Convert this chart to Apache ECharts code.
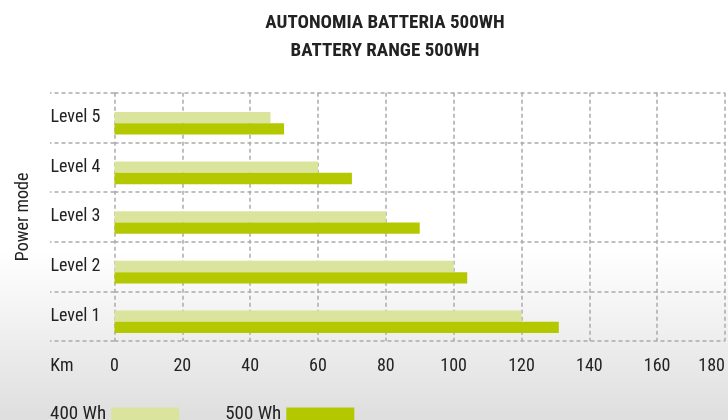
<!DOCTYPE html>
<html>
<head>
<meta charset="utf-8">
<script src="https://cdn.jsdelivr.net/npm/echarts@6/dist/echarts.min.js"></script>
<style>
html,body{margin:0;padding:0;}
#chart{width:728px;height:420px;}
</style>
</head>
<body>
<div id="chart"></div>
<script>
const titleLines = ['AUTONOMIA BATTERIA 500WH', 'BATTERY RANGE 500WH'];
const categories = ['Level 1', 'Level 2', 'Level 3', 'Level 4', 'Level 5'];
const seriesNames = ['400 Wh', '500 Wh'];
const values400 = [120, 100, 80, 60, 46];
const values500 = [131, 104, 90, 70, 50];
const xTicks = [0, 20, 40, 60, 80, 100, 120, 140, 160, 180];
const xAxisName = 'Km';
const yAxisName = 'Power mode';

const FONT = "'Liberation Sans Narrow','Roboto Condensed','DejaVu Sans Condensed','Noto Sans',sans-serif";
const chart = echarts.init(document.getElementById('chart'));
const gridLine = {type: [4, 3], color: '#aaaaaa', width: 1.5};

chart.setOption({
  animation: false,
  backgroundColor: {
    type: 'linear', x: 0, y: 0, x2: 0, y2: 1,
    colorStops: [
      {offset: 0, color: '#ffffff'},
      {offset: 0.6, color: '#ffffff'},
      {offset: 1, color: '#dedede'}
    ]
  },
  textStyle: {fontFamily: FONT},
  title: {
    text: titleLines.join('\n'),
    left: 385,
    top: 9,
    padding: 0,
    textAlign: 'center',
    textStyle: {fontFamily: FONT, fontSize: 19, fontWeight: 'bold', color: '#222', lineHeight: 28}
  },
  legend: {
    data: seriesNames,
    left: 50,
    top: 405,
    align: 'right',
    icon: 'rect',
    itemWidth: 68,
    itemHeight: 14,
    itemGap: 46,
    padding: 0,
    textStyle: {fontFamily: FONT, fontSize: 19, color: '#222'}
  },
  grid: {left: 114.5, right: 2.5, top: 92.7, bottom: 79, containLabel: false},
  xAxis: {
    type: 'value',
    min: xTicks[0],
    max: xTicks[xTicks.length - 1],
    interval: xTicks[1] - xTicks[0],
    name: xAxisName,
    nameLocation: 'start',
    nameGap: 41,
    nameTextStyle: {fontFamily: FONT, fontSize: 18, color: '#222', verticalAlign: 'top', padding: [16, 0, 0, 0]},
    axisLine: {show: false},
    axisTick: {show: false},
    axisLabel: {margin: 16, fontFamily: FONT, fontSize: 18, color: '#222', alignMaxLabel: 'right'},
    splitLine: {show: true, lineStyle: gridLine}
  },
  yAxis: {
    type: 'category',
    data: categories,
    name: yAxisName,
    nameLocation: 'middle',
    nameRotate: 90,
    nameGap: 82,
    nameTextStyle: {fontFamily: FONT, fontSize: 18, color: '#222'},
    axisLine: {show: false},
    axisTick: {show: true, length: 64.5, lineStyle: gridLine},
    axisLabel: {margin: 14, padding: [7, 0, 0, 0], fontFamily: FONT, fontSize: 18, color: '#222'},
    splitLine: {show: true, lineStyle: gridLine}
  },
  series: [
    {name: 'spacer', type: 'bar', data: [], barWidth: 11.3, barGap: '0%', silent: true},
    {name: seriesNames[0], type: 'bar', data: values400, barWidth: 11.3, barGap: '0%', itemStyle: {color: '#dbe49c'}},
    {name: seriesNames[1], type: 'bar', data: values500, barWidth: 11.3, barGap: '0%', itemStyle: {color: '#b4c800'}}
  ]
});
</script>
</body>
</html>
